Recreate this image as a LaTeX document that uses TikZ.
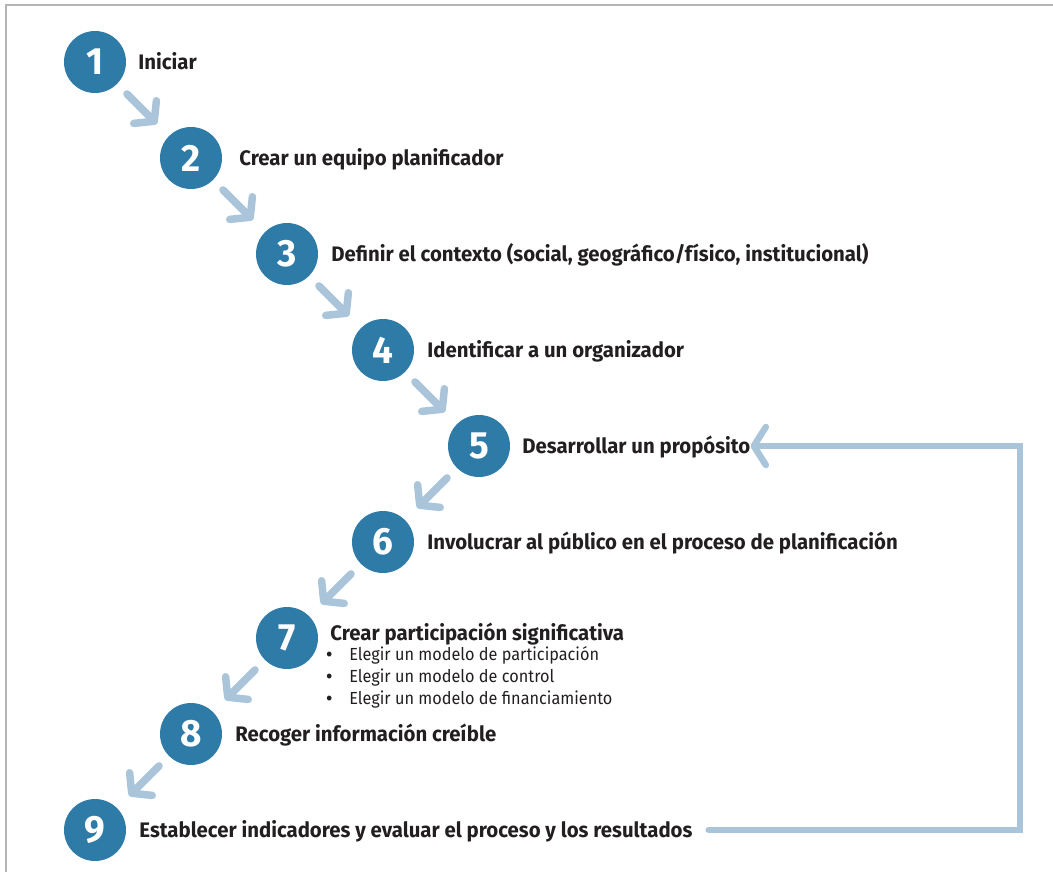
\documentclass[tikz,border=0pt]{standalone}
\usepackage{fontspec}
\setmainfont{Fira Sans}[UprightFeatures={FakeStretch=0.93},BoldFeatures={FakeStretch=0.97}]
\usepackage{tikz}
\usetikzlibrary{positioning}
\usetikzlibrary{arrows.meta}
\definecolor{stepblue}{RGB}{46,123,167}
\definecolor{flowblue}{RGB}{170,196,217}
\definecolor{framegray}{RGB}{180,180,180}
\definecolor{labelblack}{RGB}{35,31,32}
\tikzset{
    plan/.style={x=1pt,y=-1pt,node distance=96pt and 96pt},
    stepnum/.style={circle, fill=stepblue, text=white, minimum size=62pt, inner sep=0pt,
                    on grid, font=\bfseries\fontsize{38}{38}\selectfont},
    steplabel/.style={anchor=west, inner sep=0pt, text=labelblack, text height=14.5pt,
                      text depth=0pt, font=\bfseries\fontsize{21}{25}\selectfont},
    sublabel/.style={inner sep=0pt, align=left, text=labelblack,
                     font=\fontsize{17.5}{22}\selectfont},
    flow/.style={draw=flowblue, line width=7.5pt, line cap=round,
                 -{Straight Barb[round,length=13pt,width=32pt]},
                 shorten <=14pt, shorten >=17pt},
    feedback/.style={draw=flowblue, line width=6.5pt, line cap=round,
                 -{Straight Barb[round,length=12pt,width=38pt]}, shorten <=16pt},
    frame/.style={draw=framegray, line width=2pt},
    }
\newcommand{\itembul}{{\bfseries\textbullet}\hspace{17pt}}
\begin{document}
\begin{tikzpicture}[plan]
    \useasboundingbox (0,0) rectangle (1053,872);
    \draw[frame] (6,872) -- (6,5.5) -- (1053,5.5);

    % pasos
    \node[stepnum] (n1) at (95,62) {1};
    \node[stepnum] (n2) [below right=of n1] {2};
    \node[stepnum] (n3) [below right=of n2] {3};
    \node[stepnum] (n4) [below right=of n3] {4};
    \node[stepnum] (n5) [below right=of n4] {5};
    \node[stepnum] (n6) [below left=of n5] {6};
    \node[stepnum] (n7) [below left=of n6] {7};
    \node[stepnum] (n8) [below left=of n7] {8};
    \node[stepnum] (n9) [below left=of n8] {9};

    % textos
    \node[steplabel] (l1) [right=12pt of n1] {Iniciar};
    \node[steplabel] (l2) [right=17pt of n2] {Crear un equipo planificador};
    \node[steplabel] (l3) [right=13pt of n3] {Definir el contexto (social, geográfico/físico, institucional)};
    \node[steplabel] (l4) [right=13pt of n4] {Identificar a un organizador};
    \node[steplabel] (l5) [right=12pt of n5] {Desarrollar un propósito};
    \node[steplabel] (l6) [right=13pt of n6] {Involucrar al público en el proceso de planificación};
    \node[steplabel] (l7) [right=12pt of n7, yshift=5pt] {Crear participación significativa};
    \node[sublabel] (l7b) [below right=6pt and -4pt of l7.south west]
        {\itembul Elegir un modelo de participación\\
         \itembul Elegir un modelo de control\\
         \itembul Elegir un modelo de financiamiento};
    \node[steplabel] (l8) [right=13pt of n8] {Recoger información creíble};
    \node[steplabel] (l9) [right=13pt of n9] {Establecer indicadores y evaluar el proceso y los resultados};

    % flechas
    \path[flow] (n1) edge (n2);
    \path[flow] (n2) edge (n3);
    \path[flow] (n3) edge (n4);
    \path[flow] (n4) edge (n5);
    \path[flow] (n5) edge (n6);
    \path[flow] (n6) edge (n7);
    \path[flow] (n7) edge (n8);
    \path[flow] (n8) edge (n9);

    % vuelta al paso 5
    \coordinate (rgt) at (1020,0);
    \draw[feedback] (l9.east) -- (l9.east -| rgt) -- (l5.east -| rgt) -- (l5.east);
\end{tikzpicture}
\end{document}
